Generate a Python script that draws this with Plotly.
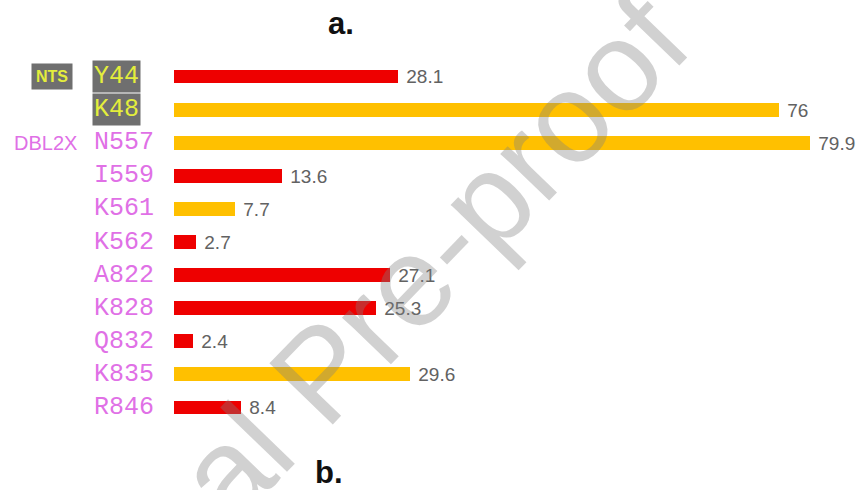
import plotly.graph_objects as go

# ---- data ----
residues = ["Y44", "K48", "N557", "I559", "K561", "K562", "A822", "K828", "Q832", "K835", "R846"]
values = [28.1, 76, 79.9, 13.6, 7.7, 2.7, 27.1, 25.3, 2.4, 29.6, 8.4]
groups = ["red", "orange", "orange", "red", "orange", "red", "red", "red", "red", "orange", "red"]
highlighted = ["Y44", "K48"]
domain_labels = {"Y44": "NTS", "N557": "DBL2X"}
value_text = ["28.1", "76", "79.9", "13.6", "7.7", "2.7", "27.1", "25.3", "2.4", "29.6", "8.4"]

color_map = {"red": "#EE0000", "orange": "#FFC000"}
bar_colors = [color_map[g] for g in groups]

W, H = 863, 490
ML, MR, MT, MB = 174, 12, 60, 66
PW = W - ML - MR
PH = H - MT - MB

def px_to_paper_x(px):
    return (px - ML) / PW

def px_to_paper_y(py):
    return (H - MB - py) / PH

fig = go.Figure()
fig.add_trace(go.Bar(
    x=values, y=residues, orientation="h",
    marker=dict(color=bar_colors, line=dict(width=0)),
    width=0.42,
    text=[" " + t for t in value_text],
    textposition="outside",
    constraintext="none",
    textfont=dict(family="Arial, Liberation Sans, sans-serif", size=19, color="#626262"),
    cliponaxis=False,
    showlegend=False,
    hoverinfo="skip",
))

annotations = []
label_color = "#E070E6"
for r in residues:
    if r in highlighted:
        annotations.append(dict(
            x=px_to_paper_x(92), xref="paper", y=r, yref="y",
            xanchor="left", yanchor="middle", showarrow=False,
            text=r, bgcolor="#6f6f6f", borderpad=1,
            font=dict(family="Courier New, Liberation Mono, monospace", size=25, color="#E4EE3C"),
        ))
    else:
        annotations.append(dict(
            x=px_to_paper_x(92), xref="paper", y=r, yref="y",
            xanchor="left", yanchor="middle", showarrow=False,
            text=r,
            font=dict(family="Courier New, Liberation Mono, monospace", size=25, color=label_color),
        ))

for r, lab in domain_labels.items():
    if lab == "NTS":
        annotations.append(dict(
            x=px_to_paper_x(31), xref="paper", y=r, yref="y",
            xanchor="left", yanchor="middle", showarrow=False,
            text="<b>" + lab + "</b>", bgcolor="#6f6f6f", borderpad=4,
            font=dict(family="Liberation Sans Narrow, Arial Narrow, Arial, sans-serif", size=16, color="#E4EE3C"),
        ))
    else:
        annotations.append(dict(
            x=px_to_paper_x(12), xref="paper", y=r, yref="y",
            xanchor="left", yanchor="middle", showarrow=False,
            text=lab,
            font=dict(family="Arial, Liberation Sans, sans-serif", size=20, color=label_color),
        ))

# panel letters
annotations.append(dict(
    x=px_to_paper_x(341), xref="paper", y=px_to_paper_y(24), yref="paper",
    xanchor="center", yanchor="middle", showarrow=False, text="<b>a.</b>",
    font=dict(family="Arial, Liberation Sans, sans-serif", size=31, color="#111111"),
))
annotations.append(dict(
    x=px_to_paper_x(329), xref="paper", y=px_to_paper_y(472), yref="paper",
    xanchor="center", yanchor="middle", showarrow=False, text="<b>b.</b>",
    font=dict(family="Arial, Liberation Sans, sans-serif", size=31, color="#111111"),
))

# watermark
annotations.append(dict(
    x=px_to_paper_x(320), xref="paper", y=px_to_paper_y(373), yref="paper",
    xanchor="center", yanchor="middle", showarrow=False, text="Journal Pre-proof",
    textangle=-46,
    font=dict(family="Arial, Liberation Sans, sans-serif", size=128, color="rgba(128,128,128,0.36)"),
))

fig.update_layout(
    width=W, height=H,
    margin=dict(l=ML, r=MR, t=MT, b=MB),
    paper_bgcolor="white", plot_bgcolor="white",
    xaxis=dict(range=[0, 85], visible=False),
    yaxis=dict(range=[10.5, -0.5], showticklabels=False, showgrid=False,
               zeroline=False, showline=False, ticks=""),
    annotations=annotations,
    bargap=0,
)

fig.write_html("out.html")
